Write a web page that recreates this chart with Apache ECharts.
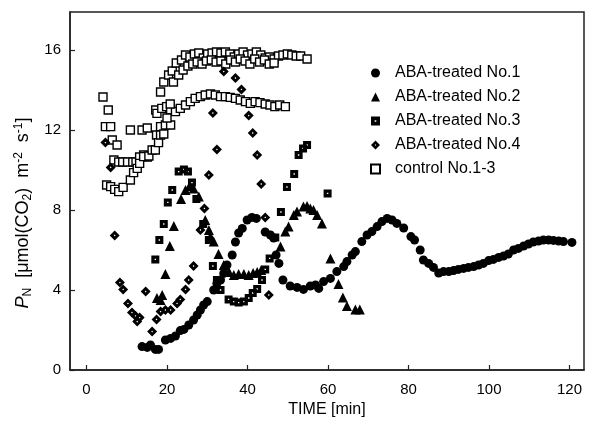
<!DOCTYPE html>
<html><head><meta charset="utf-8">
<script src="https://cdn.jsdelivr.net/npm/echarts@6/dist/echarts.min.js"></script>
<style>html,body{margin:0;padding:0;background:#fff}#c{width:597px;height:426px}</style>
</head><body><div id="c"></div>
<script>
const xTicks = [0, 20, 40, 60, 80, 100, 120];
const yTicks = [0, 4, 8, 12, 16];
const seriesNames = ['ABA-treated No.1', 'ABA-treated No.2', 'ABA-treated No.3', 'ABA-treated No.4', 'control No.1-3'];

const aba1 = [[13.8,1.17],[15.1,1.13],[15.9,1.25],[17.1,1.03],[17.9,1.03],[19.6,1.5],[20.9,1.58],[22.1,1.7],[23.3,1.97],[24.2,2.03],[25.4,2.25],[26.6,2.5],[27.5,2.75],[28.3,3.0],[29.1,3.25],[30.0,3.42],[31.6,4.0],[32.4,4.33],[33.3,4.5],[34.1,4.83],[34.9,5.25],[36.2,5.75],[37.0,6.4],[37.8,6.85],[38.7,7.08],[39.9,7.5],[41.1,7.63],[42.2,7.58],[44.4,6.9],[45.7,6.75],[46.5,6.6],[47.1,5.75],[47.8,5.33],[48.8,4.5],[50.6,4.2],[52.3,4.13],[53.9,4.03],[55.6,4.2],[56.9,4.25],[57.7,4.08],[58.9,4.42],[60.6,4.58],[62.2,4.92],[63.9,5.17],[64.7,5.42],[66.0,5.75],[66.8,5.92],[68.4,6.42],[69.7,6.75],[70.9,6.92],[72.2,7.17],[73.4,7.42],[74.7,7.58],[75.9,7.5],[77.1,7.33],[78.8,7.1],[80.6,6.67],[81.5,6.5],[82.9,6.0],[83.7,5.5],[85.0,5.33],[86.2,5.13],[87.5,4.85],[88.7,4.92],[90.0,4.92],[91.2,4.97],[92.4,5.03],[93.7,5.08],[94.9,5.13],[96.2,5.17],[97.4,5.25],[98.6,5.33],[99.9,5.47],[101.1,5.53],[102.4,5.63],[103.6,5.7],[104.8,5.8],[106.1,6.0],[107.3,6.08],[108.6,6.2],[109.8,6.3],[111.0,6.4],[112.3,6.45],[113.5,6.5],[114.8,6.5],[116.0,6.48],[117.3,6.45],[118.5,6.42],[120.6,6.38]];

const aba2 = [[17.5,3.6],[18.4,3.5],[18.8,3.75],[19.6,4.8],[20.7,6.2],[21.7,7.2],[23.5,8.55],[24.6,9.0],[25.6,9.2],[26.6,9.08],[27.9,8.67],[29.5,7.5],[30.4,7.0],[30.8,6.67],[31.6,6.42],[32.8,5.8],[34.1,5.25],[35.4,4.9],[36.6,4.75],[37.8,4.8],[39.1,4.8],[40.3,4.75],[41.4,4.85],[42.4,4.9],[43.4,5.0],[48.2,6.17],[49.4,6.92],[50.2,7.17],[51.5,7.75],[52.3,7.92],[53.9,8.17],[54.8,8.2],[55.6,8.08],[56.4,8.0],[57.3,7.75],[58.5,7.33],[60.6,5.58],[62.6,4.3],[63.7,3.63],[64.7,3.2],[66.8,3.03],[67.9,3.03]];

const aba3 = [[17.1,5.53],[18.1,6.5],[19.2,7.3],[20.2,8.38],[21.3,9.0],[22.9,9.92],[24.2,10.03],[25.2,9.92],[26.2,9.37],[27.3,8.55],[29.0,7.3],[30.4,6.5],[31.4,5.2],[32.4,4.5],[33.3,4.0],[35.3,3.53],[36.6,3.42],[37.8,3.37],[39.1,3.42],[40.3,3.6],[41.3,3.85],[42.4,4.05],[43.6,4.5],[44.4,5.03],[45.5,5.58],[46.9,6.63],[48.3,7.9],[49.8,9.15],[51.6,9.8],[52.7,10.75],[53.8,11.08],[54.8,11.25],[59.9,8.83]];

const aba4 = [[4.7,11.37],[6.0,10.13],[7.0,6.73],[8.3,4.37],[9.1,4.03],[10.3,3.33],[11.3,2.87],[12.2,2.7],[12.6,2.42],[13.2,2.62],[14.7,3.92],[16.3,1.92],[17.4,2.53],[18.4,2.92],[19.6,3.0],[20.9,3.0],[22.5,3.33],[23.3,3.53],[24.6,4.03],[25.4,4.5],[26.6,5.2],[28.3,7.0],[29.3,8.08],[30.4,9.75],[31.4,12.85],[32.4,11.03],[34.1,14.92],[37.0,14.6],[38.5,14.03],[40.3,12.72],[41.3,11.85],[42.4,10.75],[43.4,9.3],[44.4,7.63],[45.3,3.75]];

const ctrlA = [[4.1,13.65],[5.4,13.0],[6.4,11.5],[7.6,11.25],[10.9,12.0],[13.8,12.0],[15.1,12.1],[17.2,13.0],[18.4,13.9],[19.2,14.4],[20.4,14.75],[21.3,14.95],[22.3,15.35],[23.6,15.5],[24.6,15.75],[25.7,15.65],[26.8,15.8],[27.9,15.85],[29.0,15.6],[30.1,15.8],[31.2,15.85],[32.3,15.9],[33.4,15.85],[34.5,15.9],[35.6,15.8],[36.7,15.65],[37.8,15.8],[38.9,15.9],[40.0,15.75],[41.1,15.8],[42.2,15.9],[43.3,15.75],[44.4,15.6],[45.5,15.65],[46.6,15.55],[47.7,15.7],[48.8,15.75],[49.9,15.8],[51.0,15.75],[52.1,15.7],[53.2,15.7],[54.8,15.55]];
const ctrlB = [[4.7,12.17],[6.0,12.17],[6.8,10.5],[8.0,10.4],[9.0,10.4],[10.2,10.4],[11.5,10.4],[12.3,10.4],[13.2,10.65],[14.2,10.75],[15.1,10.65],[17.4,11.75],[18.4,12.17],[19.6,12.25],[20.9,12.25],[17.5,12.83],[18.7,13.08],[19.9,13.17],[20.9,13.0],[22.1,12.92],[23.3,13.08],[24.6,13.25],[25.8,13.42],[27.0,13.58],[28.3,13.67],[29.5,13.75],[30.8,13.8],[32.0,13.75],[33.3,13.67],[34.5,13.67],[35.7,13.63],[37.0,13.58],[38.2,13.5],[39.5,13.42],[40.7,13.33],[41.9,13.42],[43.1,13.37],[44.4,13.3],[45.6,13.25],[46.8,13.17],[48.0,13.25],[49.4,13.17]];
const ctrlC = [[5.0,9.25],[6.0,9.17],[7.0,9.03],[8.0,8.92],[9.1,9.13],[10.9,9.5],[11.7,9.87],[12.6,10.08],[13.2,10.33],[14.2,10.67],[15.5,10.7],[16.3,11.0],[17.1,11.0],[17.9,11.37],[18.4,11.75],[19.2,11.8],[20.0,12.6],[20.8,13.3],[21.6,14.4],[22.9,14.75],[24.0,15.0],[25.2,15.2],[26.4,15.3],[27.5,15.4],[28.7,15.3],[29.8,15.45],[31.0,15.5],[32.2,15.4],[33.4,15.45],[34.6,15.3],[35.8,15.5],[37.0,15.4],[38.2,15.55],[39.4,15.45],[40.6,15.3],[41.8,15.55],[43.0,15.4],[44.2,15.5],[45.4,15.3],[46.6,15.35]];

const FONT = '"Liberation Sans", Arial, sans-serif';
const sqDot = 'path://M0,0L10,0L10,10L0,10Z M4.1,4.1L4.1,5.9L5.9,5.9L5.9,4.1Z';
const diaDot = 'path://M5,0L10,5L5,10L0,5Z M5,4.1L4.1,5L5,5.9L5.9,5Z';
const axisCol = '#222';

const chart = echarts.init(document.getElementById('c'), null, {renderer: 'canvas'});
const option = {
  animation: false,
  backgroundColor: '#fff',
  grid: {left: 70, right: 13, top: 12, bottom: 56, show: true, borderColor: axisCol, borderWidth: 1.5},
  xAxis: {
    type: 'value', min: -4.1, max: 123.6,
    name: 'TIME [min]', nameLocation: 'middle', nameGap: 31,
    nameTextStyle: {fontFamily: FONT, fontSize: 16, color: '#000'},
    axisLine: {show: true, onZero: false, lineStyle: {color: axisCol, width: 1.5}},
    axisTick: {show: true, inside: true, length: 5, customValues: xTicks, lineStyle: {color: axisCol, width: 1.2}},
    axisLabel: {customValues: xTicks, margin: 12, fontSize: 15, color: '#000', fontFamily: FONT},
    splitLine: {show: false}
  },
  yAxis: {
    type: 'value', min: 0, max: 17.9,
    name: '{it|P}{sub|N}  [μmol(CO{sub|2})  m{sup|-2}  s{sup|-1}]',
    nameLocation: 'middle', nameGap: 17,
    nameTextStyle: {
      fontFamily: FONT, fontSize: 18, color: '#000', lineHeight: 21, padding: [0, 44, 0, 0],
      rich: {
        it: {fontFamily: FONT, fontSize: 18, fontStyle: 'italic', color: '#000', lineHeight: 21},
        sub: {fontFamily: FONT, fontSize: 12, color: '#000', lineHeight: 11, verticalAlign: 'bottom'},
        sup: {fontFamily: FONT, fontSize: 12, color: '#000', lineHeight: 11, verticalAlign: 'top'}
      }
    },
    axisLine: {show: true, onZero: false, lineStyle: {color: axisCol, width: 1.5}},
    axisTick: {show: true, inside: true, length: 5, customValues: yTicks, lineStyle: {color: axisCol, width: 1.2}},
    axisLabel: {customValues: yTicks, margin: 9, fontSize: 15, color: '#000', fontFamily: FONT},
    splitLine: {show: false}
  },
  legend: {
    orient: 'vertical', left: 365, top: 60, itemWidth: 9, itemHeight: 9, itemGap: 8,
    textStyle: {fontFamily: FONT, fontSize: 16, color: '#000', padding: [0, 0, 0, 10]},
    data: seriesNames
  },
  series: [
    {name: seriesNames[4], type: 'scatter', z: 1, symbol: 'rect', symbolSize: 8,
     itemStyle: {color: '#fff', borderColor: '#000', borderWidth: 1.4, opacity: 1},
     data: ctrlA.concat(ctrlB, ctrlC)},
    {name: seriesNames[0], type: 'scatter', z: 3, symbol: 'circle', symbolSize: 9,
     itemStyle: {color: '#000', opacity: 1}, data: aba1},
    {name: seriesNames[1], type: 'scatter', z: 3, symbol: 'triangle', symbolSize: 10,
     itemStyle: {color: '#000', opacity: 1}, data: aba2},
    {name: seriesNames[2], type: 'scatter', z: 3, symbol: sqDot, symbolSize: 8,
     itemStyle: {color: '#000', opacity: 1}, data: aba3},
    {name: seriesNames[3], type: 'scatter', z: 3, symbol: diaDot, symbolSize: 10,
     itemStyle: {color: '#000', opacity: 1}, data: aba4}
  ]
};
chart.setOption(option);
</script>
</body></html>
